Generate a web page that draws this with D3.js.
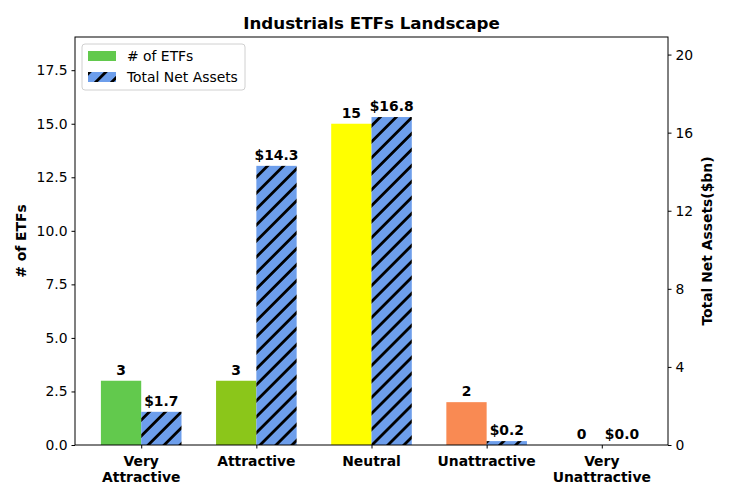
<!DOCTYPE html>
<html><head><meta charset="utf-8">
<script src="https://cdn.jsdelivr.net/npm/d3@7"></script>
<style>body{margin:0;background:#fff;} text{font-family:"DejaVu Sans",sans-serif;}</style>
</head><body><svg id="c" width="730" height="500"></svg>
<script>
const categories = ["Very\nAttractive","Attractive","Neutral","Unattractive","Very\nUnattractive"];
const etfCounts = [3,3,15,2,0];
const netAssets = [1.7,14.3,16.8,0.2,0.0];
const countColors = ["#62c94d","#8bc61a","#ffff00","#f98a53"];
const leftTicks = [0,2.5,5,7.5,10,12.5,15,17.5];
const rightTicks = [0,4,8,12,16,20];
const title = "Industrials ETFs Landscape";

const FS = "13.9px";
const svg = d3.select("#c");
const m = {l:75, r:668, t:37, b:445};
const defs = svg.append("defs");
const P = 11.3;
const pat = defs.append("pattern").attr("id","hatch").attr("patternUnits","userSpaceOnUse")
  .attr("width",P).attr("height",P).attr("patternTransform","rotate(45)");
pat.append("rect").attr("width",P).attr("height",P).attr("fill","#6d9eeb");
pat.append("rect").attr("x",0).attr("width",2.8).attr("height",P).attr("fill","#000");

const x = d3.scaleLinear().domain([-0.575,4.575]).range([m.l,m.r]);
const yL = d3.scaleLinear().domain([0,19.05]).range([m.b,m.t]);
const yR = d3.scaleLinear().domain([0,20.9]).range([m.b,m.t]);
const bw = x(0.35)-x(0);

const g = svg.append("g");
g.selectAll(".cb").data(etfCounts).enter().append("rect")
  .attr("x",(d,i)=>x(i)-bw).attr("width",bw)
  .attr("y",d=>yL(d)).attr("height",d=>yL(0)-yL(d))
  .attr("fill",(d,i)=>countColors[i % countColors.length]);
g.selectAll(".ab").data(netAssets).enter().append("rect")
  .attr("x",(d,i)=>x(i)).attr("width",bw)
  .attr("y",d=>yR(d)).attr("height",d=>yR(0)-yR(d))
  .attr("fill","url(#hatch)");
g.selectAll(".cl").data(etfCounts).enter().append("text")
  .attr("x",(d,i)=>x(i)-bw/2).attr("y",d=>yL(d)-6)
  .attr("text-anchor","middle").attr("font-weight","bold").attr("font-size",FS).text(d=>d);
g.selectAll(".al").data(netAssets).enter().append("text")
  .attr("x",(d,i)=>x(i)+bw/2).attr("y",d=>yR(d)-6)
  .attr("text-anchor","middle").attr("font-weight","bold").attr("font-size",FS).text(d=>"$"+d.toFixed(1));

const axL = svg.append("g").attr("transform",`translate(${m.l},0)`)
  .call(d3.axisLeft(yL).tickValues(leftTicks).tickFormat(d3.format(".1f")).tickSizeOuter(0).tickSize(3.5).tickPadding(4));
const axR = svg.append("g").attr("transform",`translate(${m.r},0)`)
  .call(d3.axisRight(yR).tickValues(rightTicks).tickFormat(d3.format("d")).tickSizeOuter(0).tickSize(3.5).tickPadding(4));
const axB = svg.append("g").attr("transform",`translate(0,${m.b})`)
  .call(d3.axisBottom(x).tickValues(d3.range(categories.length)).tickFormat("").tickSizeOuter(0).tickSize(3.5));
[axL,axR,axB].forEach(a=>{a.select(".domain").remove();a.selectAll("text").attr("font-size",FS).attr("fill","#000").style("font-family","DejaVu Sans");a.selectAll("line").attr("stroke","#000");});
categories.forEach((c,i)=>{
  const lines = c.split("\n");
  const t = svg.append("text").attr("x",x(i)).attr("y",466).attr("text-anchor","middle")
    .attr("font-weight","bold").attr("font-size",FS);
  lines.forEach((ln,j)=>t.append("tspan").attr("x",x(i)).attr("dy",j===0?0:16.2).text(ln));
});
svg.append("rect").attr("x",m.l).attr("y",m.t).attr("width",m.r-m.l).attr("height",m.b-m.t)
  .attr("fill","none").attr("stroke","#000").attr("stroke-width",1);

svg.append("text").attr("transform",`translate(26,${(m.t+m.b)/2}) rotate(-90)`).attr("text-anchor","middle")
  .attr("font-weight","bold").attr("font-size",FS).text("# of ETFs");
svg.append("text").attr("transform",`translate(712,${(m.t+m.b)/2}) rotate(-90)`).attr("text-anchor","middle")
  .attr("font-weight","bold").attr("font-size",FS).text("Total Net Assets($bn)");
svg.append("text").attr("x",(m.l+m.r)/2).attr("y",29).attr("text-anchor","middle")
  .attr("font-weight","bold").attr("font-size","16.7px").text(title);

const lg = svg.append("g");
lg.append("rect").attr("x",82).attr("y",44).attr("width",163).attr("height",46).attr("rx",3)
  .attr("fill","#fff").attr("fill-opacity",0.8).attr("stroke","#d0d0d0");
lg.append("rect").attr("x",88).attr("y",51).attr("width",28).attr("height",10).attr("fill",countColors[0]);
lg.append("rect").attr("x",88).attr("y",72).attr("width",28).attr("height",10).attr("fill","url(#hatch)");
lg.append("text").attr("x",127).attr("y",61).attr("font-size",FS).text("# of ETFs");
lg.append("text").attr("x",127).attr("y",82).attr("font-size",FS).text("Total Net Assets");
</script></body></html>
